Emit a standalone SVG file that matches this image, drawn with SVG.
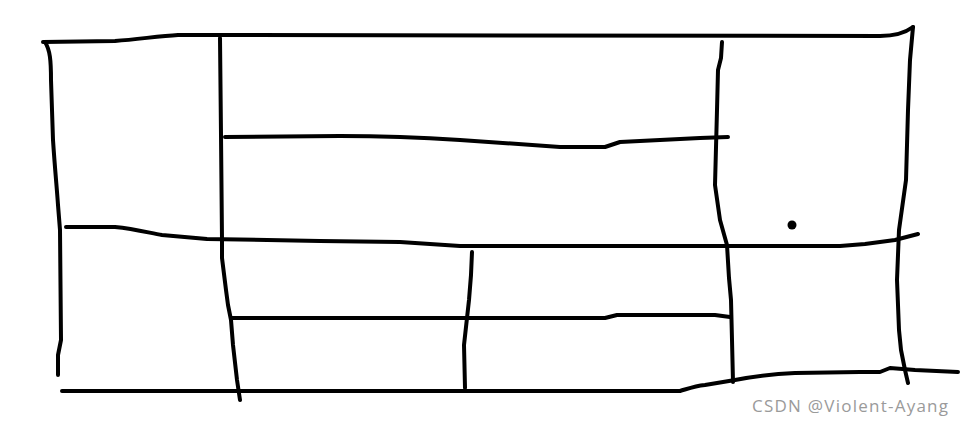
<svg xmlns="http://www.w3.org/2000/svg" width="964" height="426" viewBox="0 0 964 426">
<style>
.s{fill:none;stroke:#000;stroke-width:4;stroke-linecap:round;stroke-linejoin:round}
.wm{font-family:"Open Sans","Liberation Sans",sans-serif;font-size:17px;fill:#9a9a9a}
</style>
<rect width="964" height="426" fill="#fff"/>
<g id="sketch">
<path class="s" d="M43,42 L115,41 C140,39 160,36 178,35 L880,36 C895,36 905,33 913,27"/>
<path class="s" d="M45,42 C50,50 51,60 51,80 L53,140 C55,170 57,190 58,205 L60,230 L61,340 L58,355 L58,375"/>
<path class="s" d="M220,38 L221,135 L222,240 L222,258 L226,290 L228,305 L231,320 L233,345 L237,380 L240,400"/>
<path class="s" d="M225,137 L340,136 C400,136 430,138 460,140 L560,147 L605,147 L620,142 L700,138 L728,137"/>
<path class="s" d="M722,42 L721,58 L718,70 L717,110 L715,185 L720,220 L727,245 L729,278 L731,300 L732,340 L733,382"/>
<path class="s" d="M66,227 L115,227 C135,229 150,233 162,235 L207,239 L320,241 L400,242 L460,246 L840,246 L865,244 L895,240 L918,234"/>
<path class="s" d="M913,27 L910,60 L908,110 L906,180 L899,230 L897,280 L899,330 L901,350 L905,370 L908,383"/>
<path class="s" d="M472,252 L471,275 L469,300 L467,318 L464,345 L465,388"/>
<path class="s" d="M232,318 L605,318 L617,315 L715,315 L730,317"/>
<path class="s" d="M62,391 L680,391 C690,388 695,386 705,385 L735,380 C755,376 770,374 795,373 L860,372 L880,372 L890,368 L915,370 L958,372"/>
<circle cx="792" cy="225" r="4.5" fill="#000"/>
</g>
<text class="wm" x="752" y="412" textLength="196">CSDN @Violent-Ayang</text>
</svg>
